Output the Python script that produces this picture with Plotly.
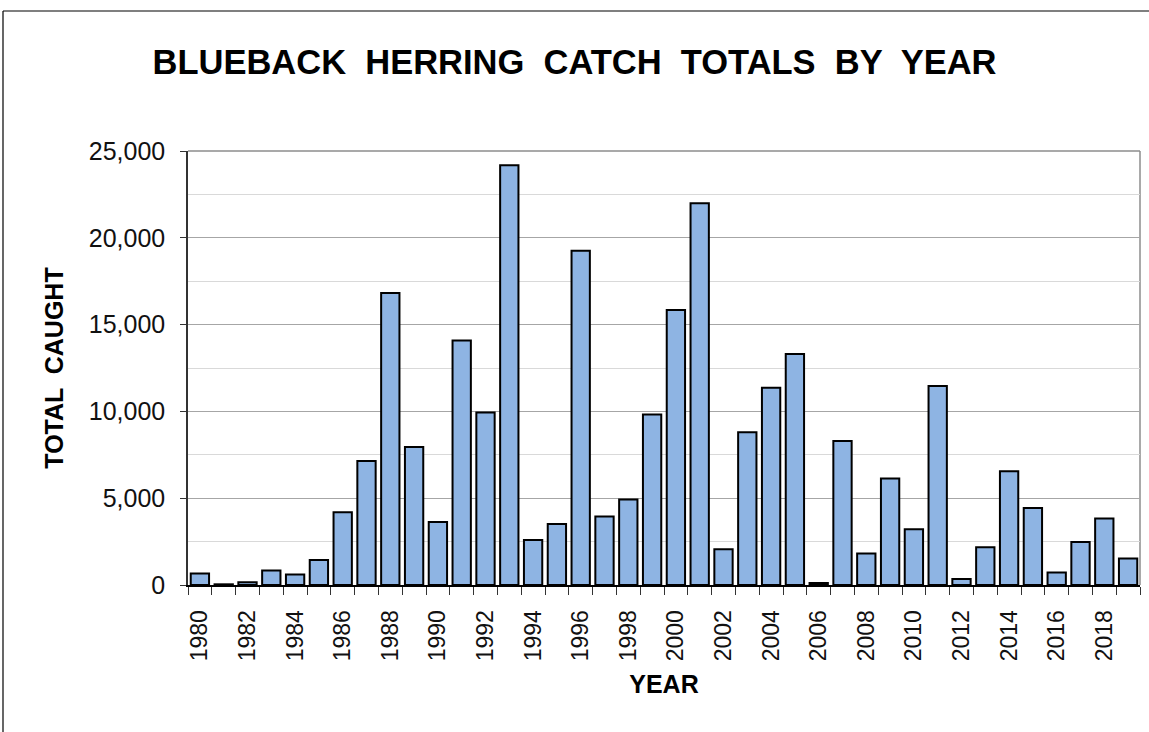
import plotly.graph_objects as go

years = list(range(1980, 2020))
catch = [657, 40, 155, 830, 600, 1440, 4190, 7150, 16815, 7955,
         3630, 14085, 9935, 24175, 2595, 3515, 19255, 3940, 4920, 9820,
         15835, 21985, 2060, 8800, 11360, 13300, 115, 8300, 1810, 6130,
         3210, 11470, 350, 2175, 6555, 4440, 715, 2480, 3830, 1520]
x_tick_years = years[::2]
x_tick_labels = [str(y) for y in x_tick_years]
y_tick_vals = [0, 5000, 10000, 15000, 20000, 25000]
y_tick_labels = ["0", "5,000", "10,000", "15,000", "20,000", "25,000"]

W, H = 1149, 732
L, R, T, B = 188, 9, 151, 147
pw, ph = W - L - R, H - T - B

fig = go.Figure(go.Bar(
    x=years, y=catch,
    marker=dict(color="#8EB4E3", line=dict(color="black", width=2)),
    hoverinfo="x+y",
))

font_family = "Liberation Sans, Arial, sans-serif"

fig.update_layout(
    width=W, height=H,
    margin=dict(l=L, r=R, t=T, b=B, autoexpand=False),
    paper_bgcolor="white", plot_bgcolor="white",
    bargap=0.23,
    showlegend=False,
    font=dict(family=font_family, color="black"),
    title=dict(
        text="<b>BLUEBACK  HERRING  CATCH  TOTALS  BY  YEAR</b>",
        x=0.5, xanchor="center", y=1 - 62 / H, yanchor="middle",
        font=dict(size=34.5, family=font_family, color="black"),
    ),
    xaxis=dict(
        range=[1979.5, 2019.5],
        tickmode="array", tickvals=x_tick_years, ticktext=x_tick_labels,
        tickangle=-90, ticks="", ticklabelstandoff=14,
        tickfont=dict(size=23, color="#111"),
        showgrid=False, zeroline=False,
        showline=True, linecolor="black", linewidth=2,
        minor=dict(tick0=1979.5, dtick=1, ticks="outside", ticklen=8,
                   tickcolor="#333", tickwidth=1, showgrid=False),
        title=dict(text="<b>YEAR</b>", font=dict(size=25, color="black"), standoff=15),
        fixedrange=True,
    ),
    yaxis=dict(
        range=[0, 25000],
        tickmode="array", tickvals=y_tick_vals, ticktext=y_tick_labels,
        ticks="outside", ticklen=6, tickcolor="#333", tickwidth=1,
        ticklabelstandoff=10,
        tickfont=dict(size=25, color="#111"),
        showgrid=True, gridcolor="#A6A6A6", gridwidth=1.3,
        minor=dict(dtick=2500, tick0=0, showgrid=True, gridcolor="#D9D9D9", gridwidth=1.3, ticks=""),
        zeroline=False,
        showline=True, linecolor="#333", linewidth=1.5,
        title=dict(text="<b>TOTAL  CAUGHT</b>", font=dict(size=25, color="black"), standoff=18),
        fixedrange=True,
    ),
    shapes=[
        # plot-area top and right border
        dict(type="line", xref="paper", yref="paper", x0=0, x1=1, y0=1, y1=1,
             line=dict(color="#8C8C8C", width=1.5), layer="below"),
        dict(type="line", xref="paper", yref="paper", x0=1, x1=1, y0=0, y1=1,
             line=dict(color="#8C8C8C", width=1.5), layer="below"),
        # chart-area border (top and left visible)
        dict(type="line", xref="paper", yref="paper",
             x0=(3 - L) / pw, x1=(W + 20 - L) / pw,
             y0=(H - B - 11) / ph, y1=(H - B - 11) / ph,
             line=dict(color="black", width=1.2)),
        dict(type="line", xref="paper", yref="paper",
             x0=(3 - L) / pw, x1=(3 - L) / pw,
             y0=(H - B - 11) / ph, y1=-(B + 20) / ph,
             line=dict(color="black", width=1.2)),
    ],
)

fig.write_html("out.html", config={"displayModeBar": False},
               post_script="document.body.style.margin='0';")
